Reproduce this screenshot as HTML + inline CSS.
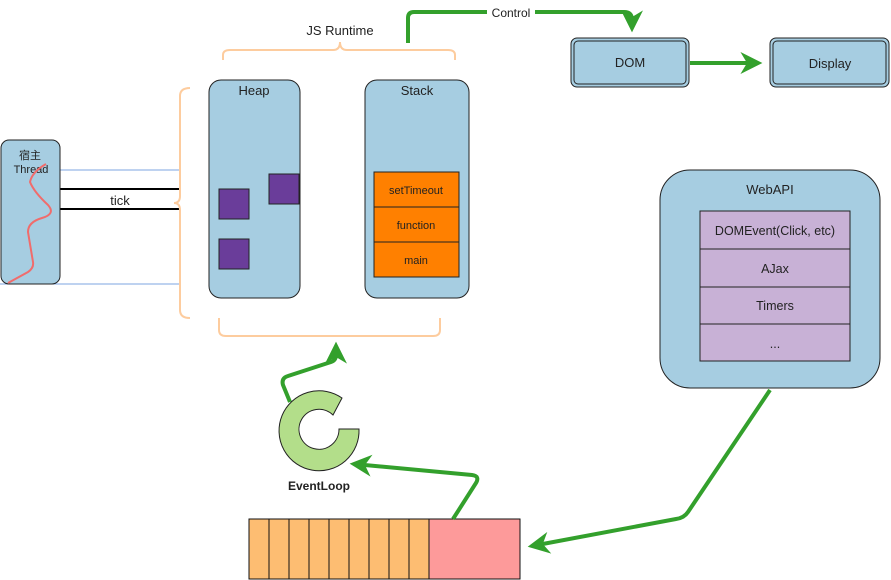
<!DOCTYPE html>
<html><head><meta charset="utf-8"><style>html,body{margin:0;padding:0;background:#fff;width:891px;height:580px;overflow:hidden}svg{display:block}text{font-family:"Liberation Sans","Noto Sans CJK SC",sans-serif;fill:#222}</style></head><body>
<svg width="891" height="580" viewBox="0 0 891 580" xmlns="http://www.w3.org/2000/svg">
<defs>
<marker id="ah" viewBox="0 0 10 10" refX="8" refY="5" markerWidth="5.5" markerHeight="5.5" orient="auto"><path d="M0,0 L10,5 L0,10 L3,5 Z" fill="#33a02c"/></marker>
</defs>
<line x1="60" y1="170" x2="180" y2="170" stroke="#7ea6e0" stroke-width="1"/>
<line x1="0" y1="284" x2="180" y2="284" stroke="#7ea6e0" stroke-width="1"/>
<line x1="60" y1="189" x2="179" y2="189" stroke="#000" stroke-width="2"/>
<line x1="60" y1="209" x2="179" y2="209" stroke="#000" stroke-width="2"/>
<text x="120" y="205" font-size="13" text-anchor="middle">tick</text>
<rect x="1" y="140" width="59" height="144" rx="8" fill="#a6cde1" stroke="#222" stroke-width="1"/>
<text x="30" y="159" font-size="11" text-anchor="middle">宿主</text>
<text x="31" y="173" font-size="11" text-anchor="middle">Thread</text>
<path d="M46,164 Q32,172 30,182 Q34,192 48,205 Q56,214 42,218 Q28,222 28,232 L33,262 Q34,268 28,272 L8,283" fill="none" stroke="#f06c6c" stroke-width="2"/>
<path d="M190,88 Q180,88 180,96 L180,196 Q180,203 174,203 Q180,203 180,210 L180,310 Q180,318 190,318" fill="none" stroke="#fdcc9e" stroke-width="2"/>
<path d="M223,60 L223,55 Q223,50 230,50 L333,50 Q340,50 340,42 Q340,50 347,50 L448,50 Q455,50 455,55 L455,60" fill="none" stroke="#fdcc9e" stroke-width="2"/>
<path d="M219,318 L219,330 Q219,336 226,336 L433,336 Q440,336 440,330 L440,318" fill="none" stroke="#fdcc9e" stroke-width="2"/>
<text x="340" y="35" font-size="13" text-anchor="middle">JS Runtime</text>
<rect x="209" y="80" width="91" height="218" rx="12" fill="#a6cde1" stroke="#222"/>
<text x="254" y="95" font-size="13" text-anchor="middle">Heap</text>
<rect x="219" y="189" width="30" height="30" fill="#6a3d9a" stroke="#222"/>
<rect x="269" y="174" width="30" height="30" fill="#6a3d9a" stroke="#222"/>
<rect x="219" y="239" width="30" height="30" fill="#6a3d9a" stroke="#222"/>
<rect x="365" y="80" width="104" height="218" rx="12" fill="#a6cde1" stroke="#222"/>
<text x="417" y="95" font-size="13" text-anchor="middle">Stack</text>
<rect x="374" y="172" width="85" height="35" fill="#ff8000" stroke="#222"/>
<rect x="374" y="207" width="85" height="35" fill="#ff8000" stroke="#222"/>
<rect x="374" y="242" width="85" height="35" fill="#ff8000" stroke="#222"/>
<text x="416" y="194" font-size="11" text-anchor="middle">setTimeout</text>
<text x="416" y="229" font-size="11" text-anchor="middle">function</text>
<text x="416" y="264" font-size="11" text-anchor="middle">main</text>
<path d="M408,43 L408,18 Q408,12 414,12 L624,12 Q632,12 632,20 L632,28" fill="none" stroke="#33a02c" stroke-width="4" marker-end="url(#ah)"/>
<rect x="487" y="5" width="48" height="14" fill="#fff"/>
<text x="511" y="17" font-size="12" text-anchor="middle">Control</text>
<rect x="571" y="38" width="118" height="49" rx="6" fill="#a6cde1" stroke="#222" stroke-width="1"/>
<rect x="574" y="41" width="112" height="43" rx="4" fill="none" stroke="#222" stroke-width="1"/>
<text x="630" y="67" font-size="13" text-anchor="middle">DOM</text>
<rect x="770" y="38" width="119" height="49" rx="6" fill="#a6cde1" stroke="#222"/>
<rect x="773" y="41" width="113" height="43" rx="4" fill="none" stroke="#222"/>
<text x="830" y="68" font-size="13" text-anchor="middle">Display</text>
<line x1="690" y1="63" x2="758" y2="63" stroke="#33a02c" stroke-width="4" marker-end="url(#ah)"/>
<rect x="660" y="170" width="220" height="218" rx="30" fill="#a6cde1" stroke="#222"/>
<text x="770" y="194" font-size="13" text-anchor="middle">WebAPI</text>
<rect x="700" y="211" width="150" height="38" fill="#c8b1d6" stroke="#222"/>
<rect x="700" y="249" width="150" height="38" fill="#c8b1d6" stroke="#222"/>
<rect x="700" y="287" width="150" height="37" fill="#c8b1d6" stroke="#222"/>
<rect x="700" y="324" width="150" height="37" fill="#c8b1d6" stroke="#222"/>
<text x="775" y="235" font-size="12.5" text-anchor="middle">DOMEvent(Click, etc)</text>
<text x="775" y="273" font-size="12.5" text-anchor="middle">AJax</text>
<text x="775" y="310" font-size="12.5" text-anchor="middle">Timers</text>
<text x="775" y="348" font-size="12.5" text-anchor="middle">...</text>
<path d="M770,390 L688,512 Q684,518 676,519 L532,546" fill="none" stroke="#33a02c" stroke-width="4" marker-end="url(#ah)"/>
<g stroke="#111" stroke-width="1">
<rect x="249" y="519" width="180" height="60" fill="#fdbd72"/>
<line x1="269" y1="519" x2="269" y2="579"/><line x1="289" y1="519" x2="289" y2="579"/><line x1="309" y1="519" x2="309" y2="579"/><line x1="329" y1="519" x2="329" y2="579"/><line x1="349" y1="519" x2="349" y2="579"/><line x1="369" y1="519" x2="369" y2="579"/><line x1="389" y1="519" x2="389" y2="579"/><line x1="409" y1="519" x2="409" y2="579"/>
<rect x="429" y="519" width="91" height="60" fill="#fd9a9a"/>
</g>
<path d="M453,519 L476,483 Q480,476 472,475 L354,464" fill="none" stroke="#33a02c" stroke-width="4" marker-end="url(#ah)"/>
<path d="M290,402 L283,385 Q281,378 288,376 L331,362 Q337,360 336,352 L336,346" fill="none" stroke="#33a02c" stroke-width="4" marker-end="url(#ah)"/>
<path d="M342,398 A40,40 0 1 0 359,429 L339,429 A20,20 0 1 1 333,415 Z" fill="#b3de8a" stroke="#222" stroke-width="1"/>
<text x="319" y="490" font-size="12" font-weight="bold" text-anchor="middle">EventLoop</text>
</svg>
</body></html>
